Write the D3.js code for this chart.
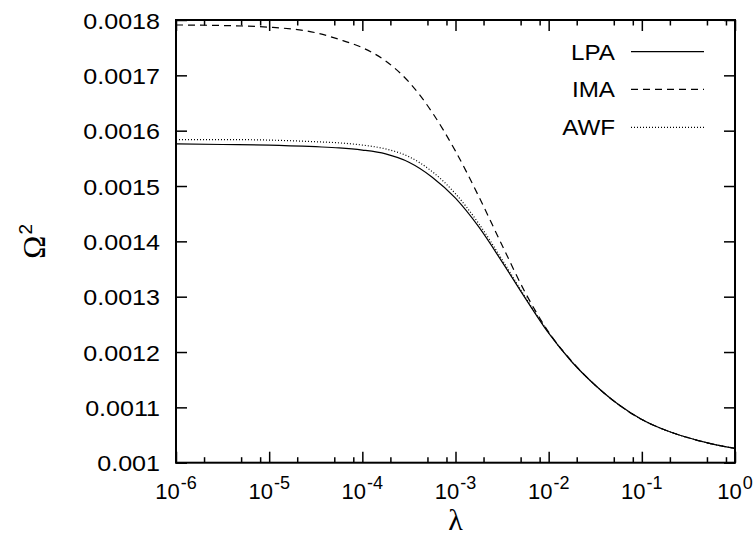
<!DOCTYPE html>
<html>
<head>
<meta charset="utf-8">
<script src="https://cdn.jsdelivr.net/npm/d3@7"></script>
<style>
  html, body { margin: 0; padding: 0; background: #fff; }
  svg { display: block; }
  text { font-family: "Liberation Sans", Arial, Helvetica, sans-serif; fill: #000; }
</style>
</head>
<body>
<svg id="chart" width="756" height="537"></svg>
<script>
// log10 of lambda at which the curves are tabulated
const logLambda = [-6, -5.5, -5, -4.5, -4.25, -4, -3.75, -3.5, -3.25, -3, -2.75, -2.5, -2.25, -2, -1.75, -1.5, -1.25, -1, -0.75, -0.5, -0.25, 0];

// Omega^2 for each approximation
const lpa = [0.001576, 0.001575, 0.001574, 0.001571, 0.001569, 0.001565, 0.001558, 0.001543, 0.001516, 0.001478, 0.001426, 0.001363, 0.001297, 0.001234, 0.001182, 0.001140, 0.001105, 0.001078, 0.001059, 0.001045, 0.001034, 0.001026];
const ima = [0.001791, 0.001790, 0.001787, 0.001777, 0.001765, 0.001750, 0.001726, 0.001688, 0.001633, 0.001563, 0.001481, 0.001393, 0.001307, 0.001236, 0.001183, 0.001140, 0.001105, 0.001078, 0.001059, 0.001045, 0.001034, 0.001026];
const awf = [0.001584, 0.001584, 0.001583, 0.001580, 0.001578, 0.001574, 0.001567, 0.001553, 0.001526, 0.001486, 0.001432, 0.001367, 0.001299, 0.001235, 0.001182, 0.001140, 0.001105, 0.001078, 0.001059, 0.001045, 0.001034, 0.001026];

const seriesNames = ["LPA", "IMA", "AWF"];

// axis ticks
const xDecades = [-6, -5, -4, -3, -2, -1, 0];
const xMinorFactors = [2, 5, 8];
const yTicks = [0.001, 0.0011, 0.0012, 0.0013, 0.0014, 0.0015, 0.0016, 0.0017, 0.0018];
const yTickLabels = ["0.001", "0.0011", "0.0012", "0.0013", "0.0014", "0.0015", "0.0016", "0.0017", "0.0018"];

const svg = d3.select("#chart");
const L = 176, R = 735, T = 20, B = 462.7;

const x = d3.scaleLog().domain([1e-6, 1]).range([L, R]);
const y = d3.scaleLinear().domain([0.001, 0.0018]).range([B, T]);

const majorX = xDecades.map(e => Math.pow(10, e));
const minorX = [];
xDecades.slice(0, -1).forEach(e => xMinorFactors.forEach(f => minorX.push(f * Math.pow(10, e))));

const styles = {
  LPA: null,
  IMA: "7,5",
  AWF: "1,2"
};
const data = { LPA: lpa, IMA: ima, AWF: awf };

// curves
const line = d3.line()
  .x(d => x(Math.pow(10, d[0])))
  .y(d => y(d[1]))
  .curve(d3.curveMonotoneX);

seriesNames.forEach(name => {
  const pts = logLambda.map((l, i) => [l, data[name][i]]);
  svg.append("path")
    .datum(pts)
    .attr("d", line)
    .attr("fill", "none")
    .attr("stroke", "#000")
    .attr("stroke-width", 1.2)
    .attr("stroke-dasharray", styles[name]);
});

// axes with inward ticks
function clean(g) { g.select(".domain").remove(); g.selectAll("line").attr("stroke", "#000").attr("stroke-width", 1.5); }

svg.append("g").attr("transform", `translate(0,${B})`)
  .call(d3.axisBottom(x).tickValues(majorX).tickSize(-11).tickFormat(""))
  .call(clean);
svg.append("g").attr("transform", `translate(0,${B})`)
  .call(d3.axisBottom(x).tickValues(minorX).tickSize(-5.5).tickFormat(""))
  .call(clean);
svg.append("g").attr("transform", `translate(0,${T})`)
  .call(d3.axisTop(x).tickValues(majorX).tickSize(-11).tickFormat(""))
  .call(clean);
svg.append("g").attr("transform", `translate(0,${T})`)
  .call(d3.axisTop(x).tickValues(minorX).tickSize(-5.5).tickFormat(""))
  .call(clean);

const gy = svg.append("g").attr("transform", `translate(${L},0)`)
  .call(d3.axisLeft(y).tickValues(yTicks).tickSize(-11).tickFormat((d, i) => yTickLabels[i]))
  .call(clean);
gy.selectAll("text")
  .attr("x", 0).attr("dy", null).attr("y", 8)
  .attr("transform", "translate(-16,0) scale(1.14,1)")
  .attr("text-anchor", "end")
  .style("font-size", "22px");

svg.append("g").attr("transform", `translate(${R},0)`)
  .call(d3.axisRight(y).tickValues(yTicks).tickSize(-11).tickFormat(""))
  .call(clean);

// x tick labels: 10^n
const xl = svg.append("g");
xDecades.forEach(e => {
  const t = xl.append("text")
    .attr("x", x(Math.pow(10, e)))
    .attr("y", 499)
    .attr("text-anchor", "middle")
    .style("font-size", "22px");
  t.append("tspan").text("10");
  t.append("tspan").attr("dy", -10).attr("dx", 1).style("font-size", "18px").text(String(e));
});

// frame
svg.append("rect")
  .attr("x", L).attr("y", T).attr("width", R - L).attr("height", B - T)
  .attr("fill", "none").attr("stroke", "#000").attr("stroke-width", 2);

// axis titles
svg.append("text")
  .attr("x", (L + R) / 2).attr("y", 530)
  .attr("text-anchor", "middle")
  .style("font-family", "'Liberation Serif', 'Times New Roman', serif")
  .style("font-size", "30px")
  .text("λ");

const yt = svg.append("text")
  .attr("transform", `translate(45,${(T + B) / 2}) rotate(-90)`)
  .attr("text-anchor", "middle")
  .style("font-family", "'Liberation Serif', 'Times New Roman', serif")
  .style("font-size", "31px");
yt.append("tspan").text("Ω");
yt.append("tspan").attr("dy", -13).attr("dx", 1).style("font-size", "19px")
  .style("font-family", "'Liberation Sans', Arial, sans-serif").text("2");

// legend
const legY = [51.7, 89.3, 127.3];
seriesNames.forEach((name, i) => {
  svg.append("text")
    .attr("transform", `translate(615,${legY[i] + 8}) scale(1.1,1)`)
    .attr("text-anchor", "end")
    .style("font-size", "22px")
    .text(name);
  svg.append("line")
    .attr("x1", 631).attr("x2", 704)
    .attr("y1", legY[i]).attr("y2", legY[i])
    .attr("stroke", "#000").attr("stroke-width", 1.2)
    .attr("stroke-dasharray", styles[name]);
});
</script>
</body>
</html>
